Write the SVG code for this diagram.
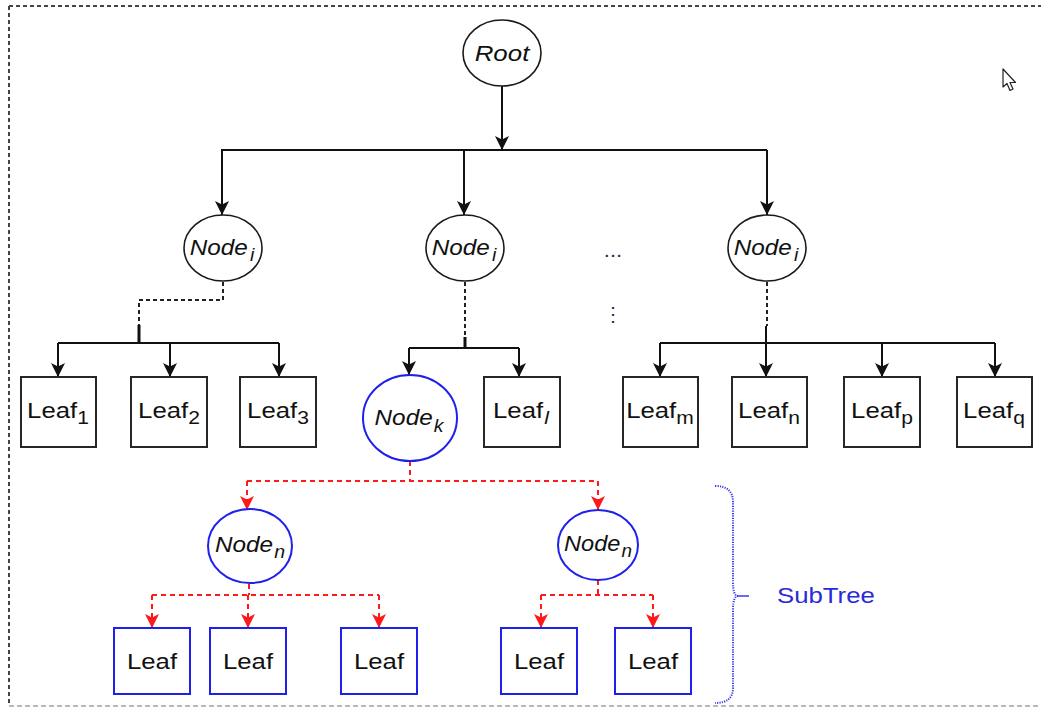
<svg xmlns="http://www.w3.org/2000/svg" width="1041" height="708" viewBox="0 0 1041 708">
  <style>
    .bg { fill: #ffffff; }
    .frame-dark { stroke: #444444; stroke-width: 2; stroke-dasharray: 4 3; fill: none; }
    .frame-light { stroke: #bbbbbb; stroke-width: 2; stroke-dasharray: 5 3; fill: none; }
    .ell { fill: #ffffff; stroke: #1a1a1a; stroke-width: 1.6; }
    .ell-blue { fill: #ffffff; stroke: #1f1fee; stroke-width: 2; }
    .box { fill: #ffffff; stroke: #262626; stroke-width: 2; }
    .box-blue { fill: #ffffff; stroke: #1f1fee; stroke-width: 2; }
    .wire { fill: none; stroke: #111111; stroke-width: 2; }
    .wire-dash { fill: none; stroke: #222222; stroke-width: 2; stroke-dasharray: 4 3; }
    .wire-stub { fill: none; stroke: #111111; stroke-width: 3; }
    .wire-red { fill: none; stroke: #ff1a1a; stroke-width: 2; stroke-dasharray: 5 4; }
    .arr { marker-end: url(#arrowBlack); }
    .arr-red { marker-end: url(#arrowRed); }
    .brace { fill: none; stroke: #3a3af0; stroke-width: 2; stroke-dasharray: 1.2 1.2; }
    text { font-family: "Liberation Sans", Arial, sans-serif; fill: #111111; }
    .leaf { font-size: 22px; text-anchor: middle; }
    .node { font-size: 22.5px; font-style: italic; text-anchor: middle; }
    .sub { font-size: 18px; }
    .subtree { font-size: 23px; fill: #2a2ad8; }
    .dots { font-size: 20px; fill: #2a2a55; text-anchor: middle; }
  </style>
  <defs>
    <marker id="arrowBlack" viewBox="0 0 14 14" markerUnits="userSpaceOnUse" markerWidth="14" markerHeight="14" refX="14" refY="7" orient="auto">
      <path d="M0,0 L14,7 L0,14 L3.5,7 Z" fill="#111111"/>
    </marker>
    <marker id="arrowRed" viewBox="0 0 14 14" markerUnits="userSpaceOnUse" markerWidth="14" markerHeight="14" refX="14" refY="7" orient="auto">
      <path d="M0,0 L14,7 L0,14 L3.5,7 Z" fill="#ff1a1a"/>
    </marker>
  </defs>

  <rect class="bg" x="0" y="0" width="1041" height="708"/>

  <!-- outer dashed frame -->
  <g id="frame">
    <line class="frame-dark" x1="9" y1="6" x2="1041" y2="6"/>
    <line class="frame-dark" x1="9" y1="6" x2="9" y2="706"/>
    <line class="frame-light" x1="9" y1="706" x2="1041" y2="706"/>
  </g>

  <!-- connectors -->
  <g id="connectors">
    <!-- root to level 1 -->
    <path class="wire arr" d="M502,86 L502,150"/>
    <path class="wire" d="M221,150 L767,150"/>
    <path class="wire arr" d="M222,150 L222,215"/>
    <path class="wire arr" d="M464,150 L464,215"/>
    <path class="wire arr" d="M767,150 L767,215"/>

    <!-- left Node_i to leaves 1..3 -->
    <path class="wire-dash" d="M223,282 L223,300 L139,300 L139,325"/>
    <path class="wire-stub" d="M139,325 L139,343"/>
    <path class="wire" d="M58,343 L279,343"/>
    <path class="wire arr" d="M58,343 L58,377"/>
    <path class="wire arr" d="M170,343 L170,377"/>
    <path class="wire arr" d="M279,343 L279,377"/>

    <!-- middle Node_i to Node_k and Leaf_l -->
    <path class="wire-dash" d="M465,282 L465,337"/>
    <path class="wire-stub" d="M465,337 L465,348"/>
    <path class="wire" d="M409,348 L519,348"/>
    <path class="wire arr" d="M409,348 L409,375"/>
    <path class="wire arr" d="M519,348 L519,377"/>

    <!-- right Node_i to leaves m..q -->
    <path class="wire-dash" d="M767,282 L767,326"/>
    <path class="wire arr" d="M766,326 L766,377"/>
    <path class="wire" d="M660,343 L995,343"/>
    <path class="wire arr" d="M660,343 L660,377"/>
    <path class="wire arr" d="M882,343 L882,377"/>
    <path class="wire arr" d="M995,343 L995,377"/>

    <!-- subtree (red, dashed) -->
    <path class="wire-red" d="M410,461 L410,481"/>
    <path class="wire-red" d="M247,481 L598,481"/>
    <path class="wire-red arr-red" d="M247,481 L247,510"/>
    <path class="wire-red arr-red" d="M598,481 L598,510"/>

    <path class="wire-red" d="M249,584 L249,595"/>
    <path class="wire-red" d="M152,595 L379,595"/>
    <path class="wire-red arr-red" d="M152,595 L152,628"/>
    <path class="wire-red arr-red" d="M248,595 L248,628"/>
    <path class="wire-red arr-red" d="M379,595 L379,628"/>

    <path class="wire-red" d="M598,580 L598,595"/>
    <path class="wire-red" d="M541,595 L653,595"/>
    <path class="wire-red arr-red" d="M541,595 L541,628"/>
    <path class="wire-red arr-red" d="M653,595 L653,628"/>
  </g>

  <!-- root -->
  <g id="root">
    <ellipse class="ell" cx="502" cy="53" rx="39" ry="33"/>
    <text class="node" font-size="22" transform="translate(502,61) scale(1.15,1)">Root</text>
  </g>

  <!-- level 1 -->
  <g id="node-i-left">
    <ellipse class="ell" cx="223" cy="248" rx="39" ry="33"/>
    <text class="node" transform="translate(222,255) scale(1.08,1)">Node<tspan class="sub" dx="2" dy="6">i</tspan></text>
  </g>
  <g id="node-i-mid">
    <ellipse class="ell" cx="465" cy="248" rx="39" ry="33"/>
    <text class="node" transform="translate(464,255) scale(1.08,1)">Node<tspan class="sub" dx="2" dy="6">i</tspan></text>
  </g>
  <g id="node-i-right">
    <ellipse class="ell" cx="767" cy="248" rx="39" ry="33"/>
    <text class="node" transform="translate(766,255) scale(1.08,1)">Node<tspan class="sub" dx="2" dy="6">i</tspan></text>
  </g>

  <!-- ellipsis between branches -->
  <g id="ellipsis">
    <text class="dots" transform="translate(613,257) scale(1.1,1)">...</text>
    <text class="dots" font-family="DejaVu Sans, sans-serif" font-size="17" x="613" y="321">⋮</text>
  </g>

  <!-- leaves of left Node_i -->
  <g id="leaf-1">
    <rect class="box" x="21" y="377" width="75" height="70"/>
    <text class="leaf" transform="translate(58,418) scale(1.17,1)">Leaf<tspan class="sub" dy="6">1</tspan></text>
  </g>
  <g id="leaf-2">
    <rect class="box" x="131" y="377" width="76" height="70"/>
    <text class="leaf" transform="translate(169,418) scale(1.17,1)">Leaf<tspan class="sub" dy="6">2</tspan></text>
  </g>
  <g id="leaf-3">
    <rect class="box" x="240" y="377" width="76" height="70"/>
    <text class="leaf" transform="translate(278,418) scale(1.17,1)">Leaf<tspan class="sub" dy="6">3</tspan></text>
  </g>

  <!-- children of middle Node_i -->
  <g id="node-k">
    <ellipse class="ell-blue" cx="410" cy="418" rx="47" ry="43"/>
    <text class="node" transform="translate(409,425) scale(1.08,1)">Node<tspan class="sub" dx="1" dy="7">k</tspan></text>
  </g>
  <g id="leaf-l">
    <rect class="box" x="484" y="377" width="76" height="70"/>
    <text class="leaf" transform="translate(521,418) scale(1.17,1)">Leaf<tspan class="sub" font-style="italic" dx="1" dy="6">l</tspan></text>
  </g>

  <!-- leaves of right Node_i -->
  <g id="leaf-m">
    <rect class="box" x="623" y="377" width="75" height="70"/>
    <text class="leaf" transform="translate(660,418) scale(1.17,1)">Leaf<tspan class="sub" dy="6">m</tspan></text>
  </g>
  <g id="leaf-n">
    <rect class="box" x="732" y="377" width="75" height="70"/>
    <text class="leaf" transform="translate(769,418) scale(1.17,1)">Leaf<tspan class="sub" dy="6">n</tspan></text>
  </g>
  <g id="leaf-p">
    <rect class="box" x="844" y="377" width="76" height="70"/>
    <text class="leaf" transform="translate(882,418) scale(1.17,1)">Leaf<tspan class="sub" dy="6">p</tspan></text>
  </g>
  <g id="leaf-q">
    <rect class="box" x="957" y="377" width="75" height="70"/>
    <text class="leaf" transform="translate(994,418) scale(1.17,1)">Leaf<tspan class="sub" dy="6">q</tspan></text>
  </g>

  <!-- subtree under Node_k -->
  <g id="node-n-left">
    <ellipse class="ell-blue" cx="250" cy="546" rx="42" ry="37"/>
    <text class="node" transform="translate(250,552) scale(1.08,1)">Node<tspan class="sub" dx="1" dy="6">n</tspan></text>
  </g>
  <g id="node-n-right">
    <ellipse class="ell-blue" cx="598" cy="545" rx="40" ry="35"/>
    <text class="node" transform="translate(598,551) scale(1.05,1)">Node<tspan class="sub" dx="1" dy="6">n</tspan></text>
  </g>

  <g id="sub-leaf-1">
    <rect class="box-blue" x="114" y="628" width="76" height="66"/>
    <text class="leaf" transform="translate(152,669) scale(1.17,1)">Leaf</text>
  </g>
  <g id="sub-leaf-2">
    <rect class="box-blue" x="210" y="628" width="76" height="66"/>
    <text class="leaf" transform="translate(248,669) scale(1.17,1)">Leaf</text>
  </g>
  <g id="sub-leaf-3">
    <rect class="box-blue" x="341" y="628" width="76" height="66"/>
    <text class="leaf" transform="translate(379,669) scale(1.17,1)">Leaf</text>
  </g>
  <g id="sub-leaf-4">
    <rect class="box-blue" x="501" y="628" width="76" height="66"/>
    <text class="leaf" transform="translate(539,669) scale(1.17,1)">Leaf</text>
  </g>
  <g id="sub-leaf-5">
    <rect class="box-blue" x="615" y="628" width="76" height="66"/>
    <text class="leaf" transform="translate(653,669) scale(1.17,1)">Leaf</text>
  </g>

  <!-- brace labelling the subtree -->
  <g id="subtree-label">
    <path class="brace" d="M715,486 Q733,486 733,502 L733,582 Q733,596 738,596"/>
    <path class="brace" d="M738,596 Q733,596 733,610 L733,688 Q733,703 715,703"/>
    <line x1="737" y1="596" x2="749" y2="596" stroke="#3a3af0" stroke-width="1.5"/>
    <text class="subtree" transform="translate(777,603) scale(1.12,1)">SubTree</text>
  </g>

  <!-- mouse pointer -->
  <path d="M1003,69 L1003,87 L1007,83.5 L1010,90.5 L1013,89 L1010,82.5 L1015.5,82.5 Z" fill="#ffffff" stroke="#222222" stroke-width="1.2" stroke-linejoin="round"/>
</svg>
